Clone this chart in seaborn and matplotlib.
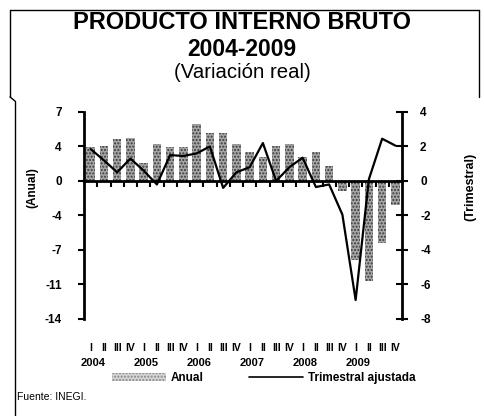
import matplotlib
matplotlib.use('Agg')
import matplotlib.pyplot as plt
import matplotlib.transforms as mtransforms
from matplotlib.patches import Patch
from matplotlib.lines import Line2D
import seaborn as sns
import pandas as pd
import numpy as np

# Data
years = ['2004', '2005', '2006', '2007', '2008', '2009']
quarters = ['I', 'II', 'III', 'IV']
anual = [3.4, 3.5, 4.3, 4.4,
         1.8, 3.8, 3.4, 3.4,
         5.8, 4.9, 4.9, 3.8,
         2.9, 2.4, 3.6, 3.8,
         2.4, 2.9, 1.5, -1.0,
         -8.0, -10.1, -6.3, -2.4]
trimestral = [1.85, 1.2, 0.5, 1.3,
              0.6, -0.2, 1.5, 1.45,
              1.6, 2.0, -0.4, 0.5,
              0.8, 2.2, 0.0, 0.8,
              1.35, -0.35, -0.2, -1.95,
              -6.9, 0.1, 2.45, 2.05]
left_ticks = [7, 3.5, 0, -3.5, -7, -10.5, -14]
left_labels = ['7', '4', '0', '-4', '-7', '-11', '-14']
right_ticks = [4, 2, 0, -2, -4, -6, -8]

labels = [f'{y}-{q}' for y in years for q in quarters]
df = pd.DataFrame({'Periodo': labels, 'Anual': anual,
                   'Trimestral': trimestral, 'pos': np.arange(len(labels))})

sns.set_style('white')
plt.rcParams['font.family'] = ['Liberation Sans', 'DejaVu Sans']
plt.rcParams.update({'text.color': 'black', 'axes.labelcolor': 'black',
                     'xtick.color': 'black', 'ytick.color': 'black',
                     'axes.edgecolor': 'black'})

fig = plt.figure(figsize=(4.84, 4.16), dpi=100)
ax = fig.add_axes([0.1736, 0.2332, 0.657, 0.4976])

sns.barplot(data=df, x='Periodo', y='Anual', ax=ax, width=0.65,
            color='#a6a6a6', edgecolor='#3a3a3a', linewidth=0,
            hatch='.....', saturation=1)
ax.set_xlim(-0.5, len(labels) - 0.5)
ax.set_ylim(-14, 7)
ax.set_yticks(left_ticks)
ax.set_yticklabels(left_labels, fontsize=8.5, fontweight='bold')
ax.tick_params(axis='y', direction='out', length=4, width=1.5, pad=12, left=True)
ax.set_xlabel('')
ax.set_ylabel('')

ax.spines['top'].set_visible(False)
ax.spines['right'].set_visible(False)
ax.spines['left'].set_linewidth(2)
ax.spines['bottom'].set_position(('data', 0))
ax.spines['bottom'].set_linewidth(2)
ax.set_xticks(np.arange(0.5, len(labels) - 1, 1))
ax.set_xticklabels([])
ax.tick_params(axis='x', direction='out', length=4, width=1.5, bottom=True)

ax2 = ax.twinx()
sns.lineplot(data=df, x='pos', y='Trimestral', ax=ax2, color='black', linewidth=1.6)
ax2.set_ylim(-8, 4)
ax2.set_yticks(right_ticks)
ax2.set_yticklabels([str(t) for t in right_ticks], fontsize=8.5, fontweight='bold')
ax2.tick_params(axis='y', direction='inout', length=8, width=1.5, pad=9, right=True)
ax2.set_xlim(-0.5, len(labels) - 0.5)
ax2.set_xlabel('')
ax2.set_ylabel('')
for s in ['top', 'left', 'bottom']:
    ax2.spines[s].set_visible(False)
ax2.spines['right'].set_linewidth(2)

# quarter and year labels under the plot
tr = mtransforms.blended_transform_factory(ax.transData, fig.transFigure)
for i, lab in enumerate(labels):
    y, q = lab.split('-')
    ax.text(i, 0.163, q, transform=tr, ha='center', va='center',
            fontsize=7.5, fontweight='bold')
    if q == 'I':
        ax.text(i + 0.2, 0.128, y, transform=tr, ha='center', va='center',
                fontsize=8, fontweight='bold')

# titles
fig.text(0.5, 0.946, 'PRODUCTO INTERNO BRUTO', ha='center', va='center',
         fontsize=17, fontweight='bold')
fig.text(0.5, 0.882, '2004-2009', ha='center', va='center',
         fontsize=16.5, fontweight='bold')
fig.text(0.5, 0.825, '(Variación real)', ha='center', va='center', fontsize=14.7)

fig.text(0.066, 0.55, '(Anual)', rotation=90, ha='center', va='center',
         fontsize=8.5, fontweight='bold')
fig.text(0.971, 0.55, '(Trimestral)', rotation=90, ha='center', va='center',
         fontsize=9, fontweight='bold')

handles = [Patch(facecolor='#d6d6d6', edgecolor='#888888', hatch='.....', linewidth=0),
           Line2D([0], [0], color='black', linewidth=1.2)]
fig.legend(handles, ['Anual', 'Trimestral ajustada'], loc='center',
           bbox_to_anchor=(0.545, 0.091), ncol=2, frameon=False,
           prop={'size': 8.5, 'weight': 'bold'}, handlelength=4.6,
           handleheight=0.6, handletextpad=0.4, columnspacing=3.8)

fig.text(0.035, 0.046, 'Fuente: INEGI.', ha='left', va='center', fontsize=7.5)

# scanned frame lines
frame = dict(color='black', linewidth=1, transform=fig.transFigure)
fig.add_artist(Line2D([0.0207, 0.99], [0.976, 0.976], **frame))
fig.add_artist(Line2D([0.0207, 0.0207], [0.976, 0.767], **frame))
fig.add_artist(Line2D([0.0207, 0.031], [0.767, 0.757], **frame))
fig.add_artist(Line2D([0.031, 0.031], [0.757, 0.0], **frame))
fig.add_artist(Line2D([0.99, 0.99], [0.976, 0.767], **frame))

fig.savefig('out.png', dpi=100)
